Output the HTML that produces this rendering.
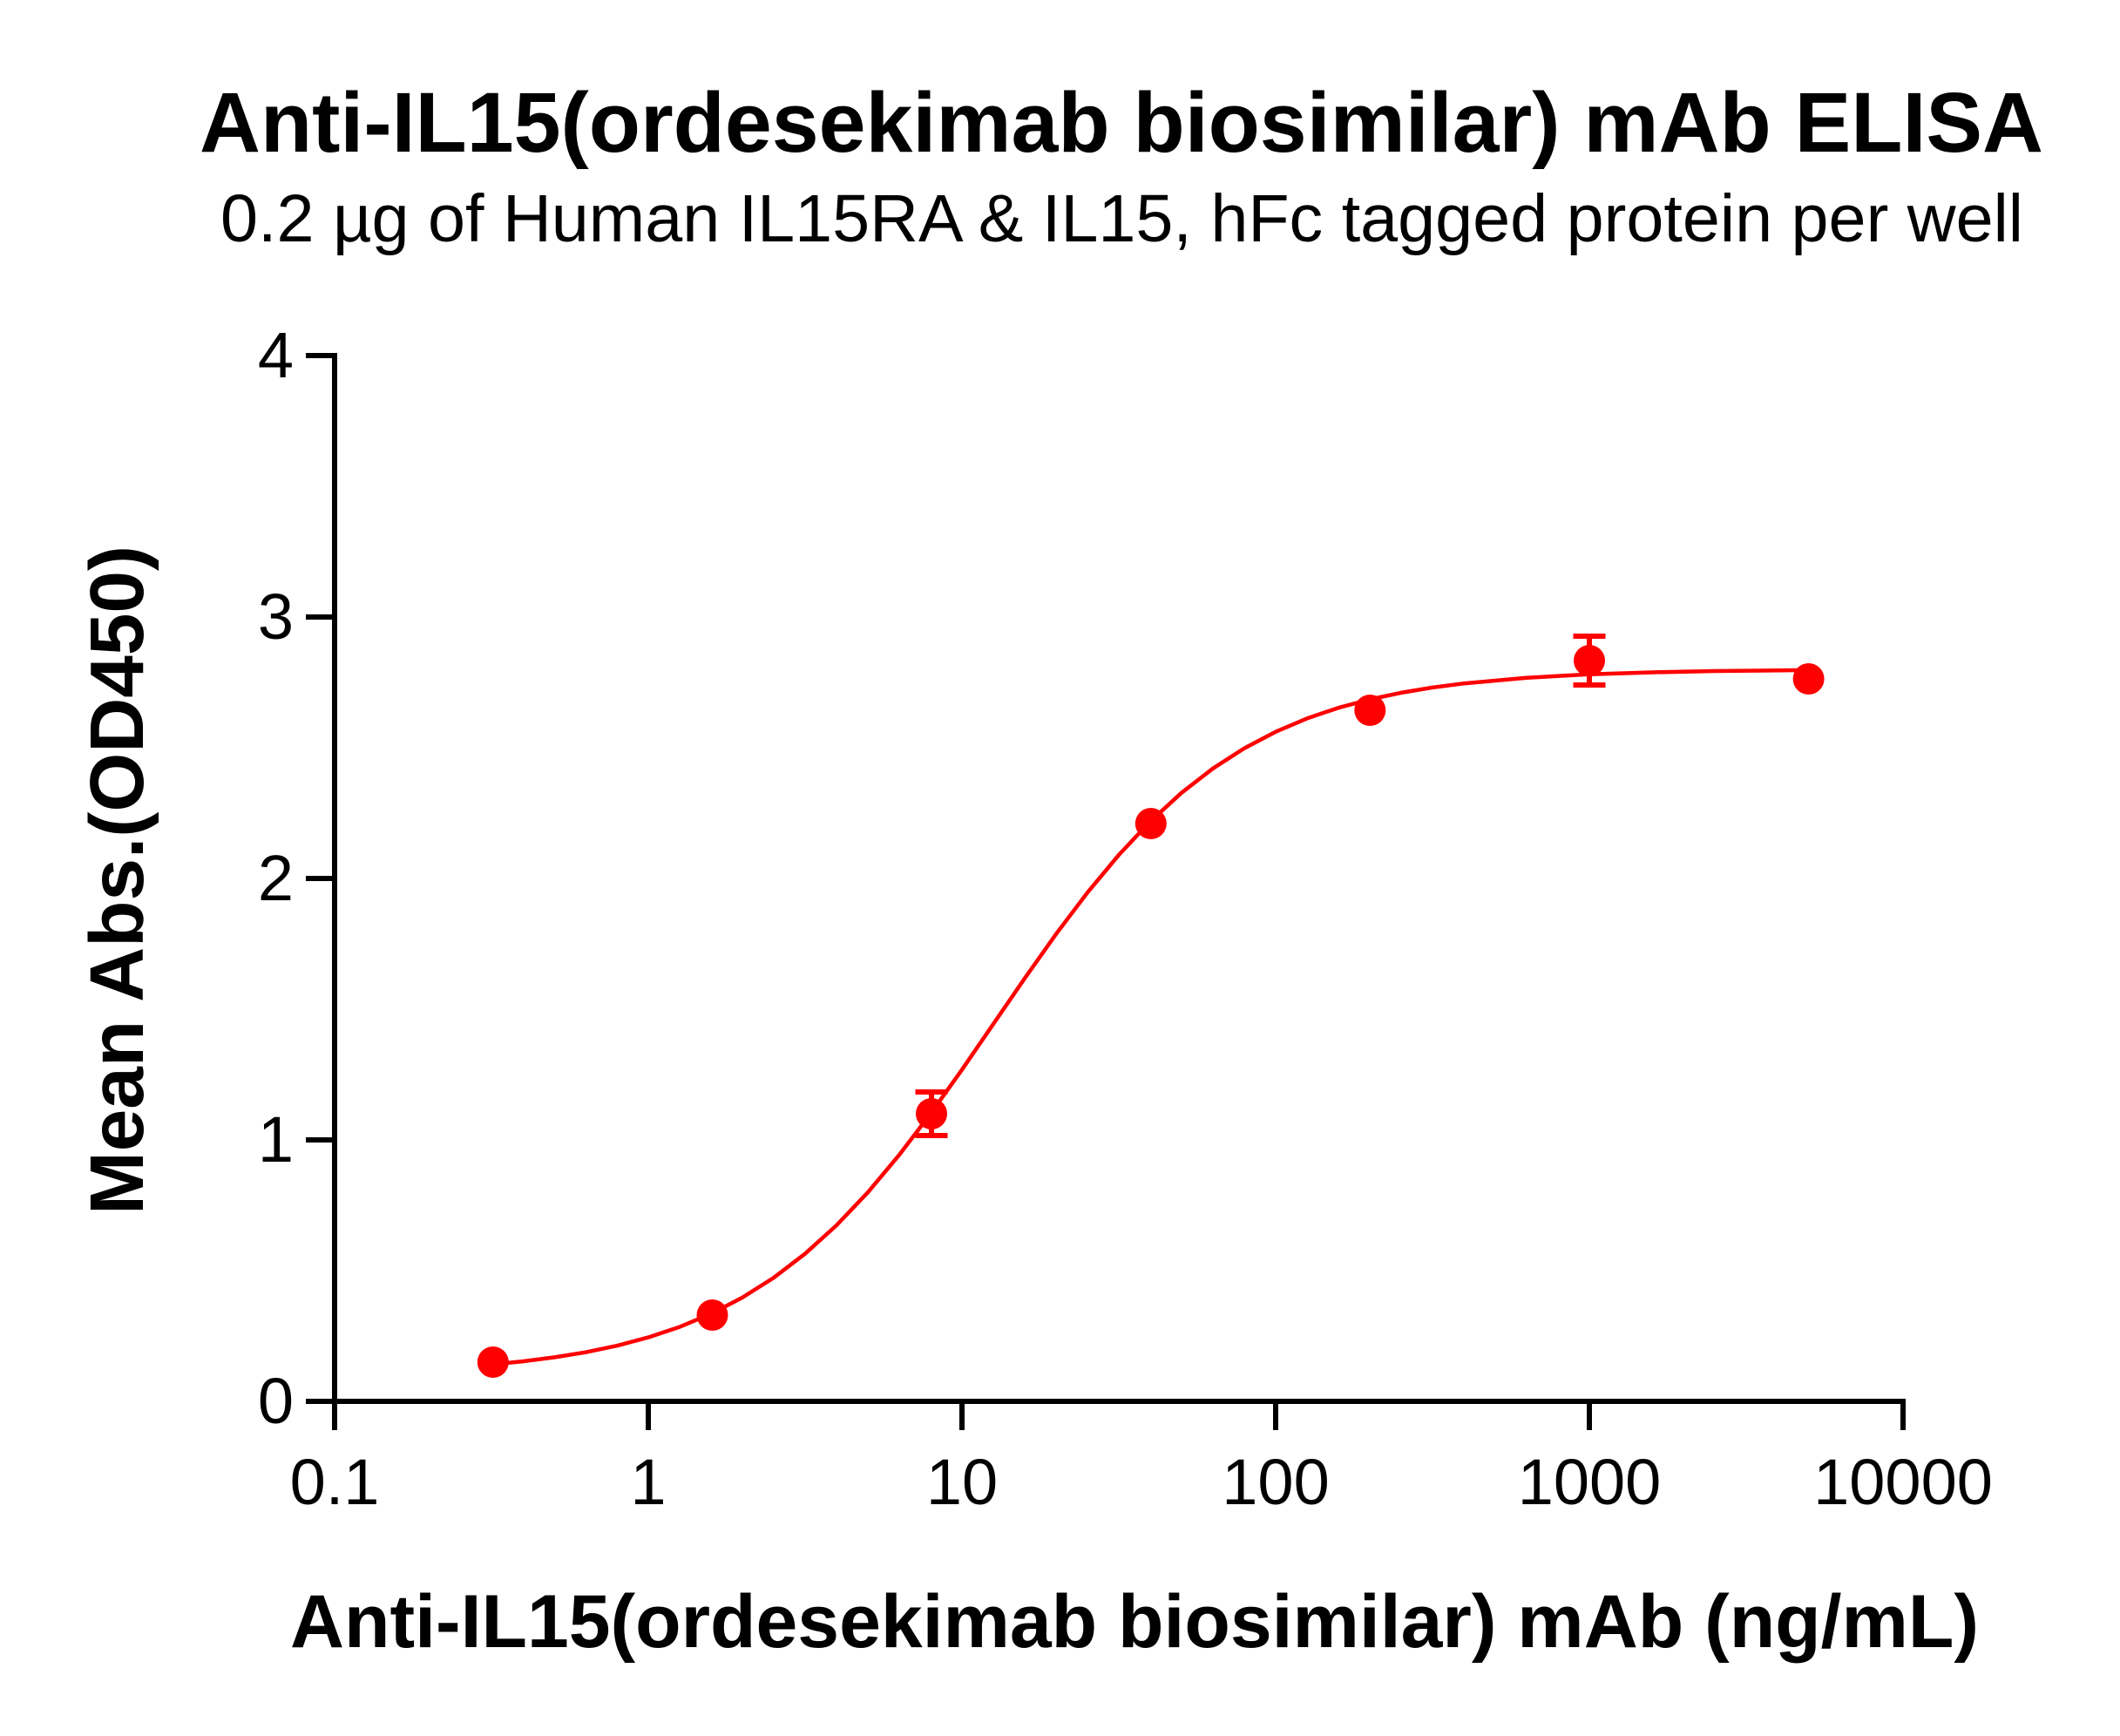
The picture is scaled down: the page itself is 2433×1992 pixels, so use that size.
<!DOCTYPE html>
<html>
<head>
<meta charset="utf-8">
<style>
  html, body { margin: 0; padding: 0; background: #ffffff; }
  svg { display: block; }
  text { font-family: "Liberation Sans", Arial, sans-serif; fill: #000; }
</style>
</head>
<body>
<svg width="2433" height="1992" viewBox="0 0 2433 1992" xmlns="http://www.w3.org/2000/svg">
  <rect x="0" y="0" width="2433" height="1992" fill="#ffffff"/>

  <!-- Titles -->
  <text x="1287" y="174" font-size="97" font-weight="bold" text-anchor="middle" textLength="2116" lengthAdjust="spacingAndGlyphs">Anti-IL15(ordesekimab biosimilar) mAb ELISA</text>
  <text x="1287.5" y="277" font-size="77" text-anchor="middle" textLength="2069" lengthAdjust="spacingAndGlyphs">0.2 µg of Human IL15RA &amp; IL15, hFc tagged protein per well</text>

  <!-- Axes -->
  <g stroke="#000" stroke-width="6" fill="none" stroke-linecap="butt">
    <line x1="384" y1="405" x2="384" y2="1611"/>
    <line x1="351" y1="1608" x2="2187" y2="1608"/>
    <!-- y ticks -->
    <line x1="351" y1="408" x2="384" y2="408"/>
    <line x1="351" y1="708" x2="384" y2="708"/>
    <line x1="351" y1="1008" x2="384" y2="1008"/>
    <line x1="351" y1="1308" x2="384" y2="1308"/>
    <!-- x ticks -->
    <line x1="384" y1="1608" x2="384" y2="1641"/>
    <line x1="744" y1="1608" x2="744" y2="1641"/>
    <line x1="1104" y1="1608" x2="1104" y2="1641"/>
    <line x1="1464" y1="1608" x2="1464" y2="1641"/>
    <line x1="1824" y1="1608" x2="1824" y2="1641"/>
    <line x1="2184" y1="1608" x2="2184" y2="1641"/>
  </g>

  <!-- Y tick labels -->
  <g font-size="74" text-anchor="end">
    <text x="337" y="433">4</text>
    <text x="337" y="733">3</text>
    <text x="337" y="1033">2</text>
    <text x="337" y="1333">1</text>
    <text x="337" y="1633">0</text>
  </g>

  <!-- X tick labels -->
  <g font-size="74" text-anchor="middle">
    <text x="384" y="1726">0.1</text>
    <text x="744" y="1726">1</text>
    <text x="1104" y="1726">10</text>
    <text x="1464" y="1726">100</text>
    <text x="1824" y="1726">1000</text>
    <text x="2184" y="1726">10000</text>
  </g>

  <!-- Axis labels -->
  <text x="1302" y="1890" font-size="86" font-weight="bold" text-anchor="middle" textLength="1938" lengthAdjust="spacingAndGlyphs">Anti-IL15(ordesekimab biosimilar) mAb (ng/mL)</text>
  <text transform="translate(164,1010) rotate(-90)" x="0" y="0" font-size="87" font-weight="bold" text-anchor="middle" textLength="768" lengthAdjust="spacingAndGlyphs">Mean Abs.(OD450)</text>

  <!-- Fitted curve -->
  <polyline fill="none" stroke="#ff0000" stroke-width="4.5" stroke-linejoin="round" stroke-linecap="round"
    points="565.8,1565.5 600,1562.1 636,1557.5 672,1551.7 708,1544.2 744,1534.6 780,1522.6 816,1507.6 852,1488.9 888,1466.1 924,1438.6 960,1406.0 996,1368.2 1032,1325.2 1068,1277.9 1104,1227.4 1140,1175.0 1176,1122.6 1212,1071.8 1248,1024.2 1284,981.0 1320,942.7 1356,909.7 1392,881.8 1428,858.6 1464,839.7 1500,824.4 1536,812.2 1572,802.5 1608,794.9 1644,788.9 1680,784.2 1752,777.7 1824,773.8 1896,771.5 1968,770.0 2075.6,768.9"/>

  <!-- Error bars -->
  <g stroke="#ff0000" stroke-width="6" fill="none">
    <line x1="1069" y1="1253" x2="1069" y2="1303"/>
    <line x1="1050.5" y1="1253" x2="1087.5" y2="1253"/>
    <line x1="1050.5" y1="1303" x2="1087.5" y2="1303"/>
    <line x1="1824" y1="730" x2="1824" y2="786"/>
    <line x1="1805.5" y1="730" x2="1842.5" y2="730"/>
    <line x1="1805.5" y1="786" x2="1842.5" y2="786"/>
  </g>

  <!-- Data points -->
  <g fill="#ff0000">
    <circle cx="565.8" cy="1563" r="18"/>
    <circle cx="817.5" cy="1509" r="18"/>
    <circle cx="1069" cy="1278" r="18"/>
    <circle cx="1320.8" cy="945" r="18"/>
    <circle cx="1572.3" cy="815" r="18"/>
    <circle cx="1824" cy="758" r="18"/>
    <circle cx="2075.6" cy="779" r="18"/>
  </g>
</svg>
</body>
</html>
